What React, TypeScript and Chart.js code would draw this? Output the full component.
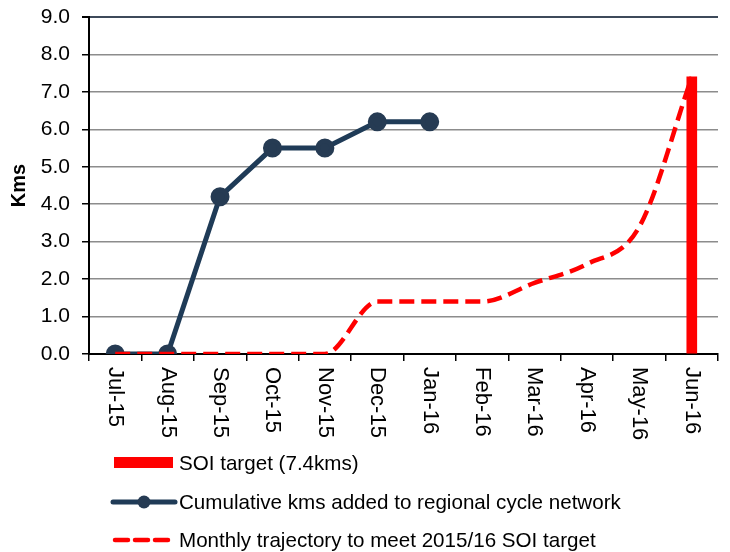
import React, { useEffect, useRef } from "react";
import { Chart, registerables } from "chart.js";

Chart.register(...registerables);

const months = ["Jul-15", "Aug-15", "Sep-15", "Oct-15", "Nov-15", "Dec-15", "Jan-16", "Feb-16", "Mar-16", "Apr-16", "May-16", "Jun-16"];
const soiTarget = [null, null, null, null, null, null, null, null, null, null, null, 7.4];
const cumulativeKms = [0, 0, 4.2, 5.5, 5.5, 6.2, 6.2, null, null, null, null, null];
const trajectory = [0, 0, 0, 0, 0, 1.4, 1.4, 1.4, 1.9, 2.4, 3.4, 7.4];
const legendLabels = ["SOI target (7.4kms)", "Cumulative kms added to regional cycle network", "Monthly trajectory to meet 2015/16 SOI target"];

const FONT = "'Liberation Sans', Arial, sans-serif";
const NAVY = "#1F3B57";
const RED = "#FF0000";

const rotatedLabels = {
  id: "rotatedLabels",
  afterDraw(chart: any) {
    const x = chart.scales.x;
    const ctx = chart.ctx;
    ctx.save();
    ctx.fillStyle = "#000";
    ctx.font = `22px ${FONT}`;
    ctx.textAlign = "left";
    ctx.textBaseline = "middle";
    months.forEach((m, i) => {
      const px = x.getPixelForValue(i);
      ctx.save();
      ctx.translate(px, x.top + 13);
      ctx.rotate(Math.PI / 2);
      ctx.fillText(m, 0, 0);
      ctx.restore();
    });
    ctx.restore();
  },
};

export default function App() {
  const ref = useRef<HTMLCanvasElement>(null);
  useEffect(() => {
    document.body.style.margin = "0";
    const chart = new Chart(ref.current!, {
      type: "bar",
      data: {
        labels: months,
        datasets: [
          {
            type: "line",
            label: legendLabels[1],
            data: cumulativeKms,
            borderColor: NAVY,
            backgroundColor: "#263B53",
            pointBackgroundColor: "#263B53",
            pointBorderColor: "#263B53",
            borderWidth: 5,
            pointRadius: 7,
            tension: 0,
            spanGaps: false,
            order: 1,
          } as any,
          {
            type: "line",
            label: legendLabels[2],
            data: trajectory,
            borderColor: RED,
            borderWidth: 4.5,
            borderDash: [15, 7],
            pointRadius: 0,
            cubicInterpolationMode: "monotone",
            fill: false,
            order: 0,
          } as any,
          {
            type: "bar",
            label: legendLabels[0],
            data: soiTarget,
            backgroundColor: RED,
            barThickness: 10,
            order: 2,
          } as any,
        ],
      },
      options: {
        responsive: false,
        animation: false,
        layout: { padding: { top: 17, left: 0, right: 0, bottom: 0 } },
        plugins: { legend: { display: false }, tooltip: { enabled: false } },
        scales: {
          x: {
            offset: true,
            grid: {
              offset: true,
              drawOnChartArea: false,
              drawTicks: true,
              tickLength: 7,
              color: "#000",
              lineWidth: 1.5,
            },
            border: { color: "#000", width: 2 },
            ticks: { display: false },
            afterFit(scale: any) {
              scale.height = 552 - 354;
            },
          },
          y: {
            min: 0,
            max: 9,
            ticks: {
              stepSize: 1,
              color: "#000",
              font: { family: FONT, size: 21 },
              padding: 12,
              callback: (v: any) => Number(v).toFixed(1),
            },
            grid: {
              color: (c: any) => (c.tick && c.tick.value === 9 ? "#3D4A5A" : "#8C8C8C"),
              lineWidth: (c: any) => (c.tick && c.tick.value === 9 ? 2 : 1.5),
              tickLength: 7,
              tickColor: "#000",
            },
            border: { color: "#000", width: 2 },
            title: {
              display: true,
              text: "Kms",
              color: "#000",
              font: { family: FONT, size: 20, weight: "bold" },
              padding: { top: 7, bottom: 0 },
            },
            afterFit(scale: any) {
              scale.width = 89;
              scale.paddingTop = 0;
            },
          },
        },
      },
      plugins: [rotatedLabels],
    });
    return () => chart.destroy();
  }, []);

  const textStyle: React.CSSProperties = {
    position: "absolute",
    left: 179,
    font: `20.6px ${FONT}`,
    color: "#000",
    whiteSpace: "nowrap",
    lineHeight: "24px",
  };

  return (
    <div style={{ position: "relative", width: 730, height: 552, background: "#fff", overflow: "hidden" }}>
      <canvas ref={ref} width={730} height={552} style={{ display: "block" }} />
      <div style={{ position: "absolute", left: 114, top: 457, width: 59, height: 11, background: RED }} />
      <div style={{ ...textStyle, top: 451 }}>{legendLabels[0]}</div>
      <svg style={{ position: "absolute", left: 110, top: 490 }} width={70} height={24}>
        <line x1={3} y1={12} x2={65} y2={12} stroke={NAVY} strokeWidth={5} strokeLinecap="round" />
        <circle cx={34} cy={12} r={6.5} fill="#263B53" />
      </svg>
      <div style={{ ...textStyle, top: 490 }}>{legendLabels[1]}</div>
      <svg style={{ position: "absolute", left: 110, top: 528 }} width={70} height={24}>
        <line x1={5} y1={12} x2={65} y2={12} stroke={RED} strokeWidth={4.5} strokeDasharray="13 7" strokeLinecap="round" />
      </svg>
      <div style={{ ...textStyle, top: 528 }}>{legendLabels[2]}</div>
    </div>
  );
}
